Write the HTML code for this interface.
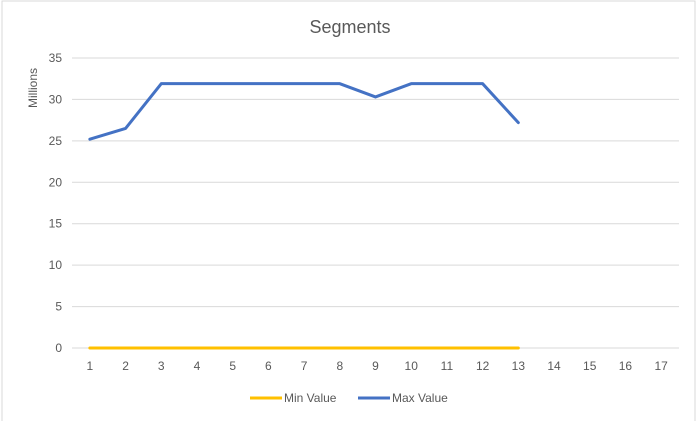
<!DOCTYPE html>
<html><head><meta charset="utf-8"><style>
body{margin:0;background:#fff;}
svg{display:block;font-family:"Liberation Sans",Calibri,sans-serif;}
</style></head><body>
<svg id="chart" width="700" height="421">
<rect x="0" y="0" width="700" height="421" fill="#fff"/>
<rect x="2" y="1" width="693" height="430" fill="#fff" stroke="#d9d9d9"/>
<text x="350" y="33" text-anchor="middle" font-size="18" fill="#595959">Segments</text>
<text transform="translate(37,88) rotate(-90)" text-anchor="middle" font-size="12" fill="#595959">Millions</text>
<g id="grid"></g><g id="ylab"></g><g id="xlab"></g><g id="series"></g>
<g>
<line x1="250" y1="398" x2="282" y2="398" stroke="#ffc000" stroke-width="3"/>
<text x="284" y="402" font-size="12" fill="#595959">Min Value</text>
<line x1="358" y1="398" x2="390" y2="398" stroke="#4472c4" stroke-width="3"/>
<text x="392" y="402" font-size="12" fill="#595959">Max Value</text>
</g>
</svg>
<script>
const categories=[1,2,3,4,5,6,7,8,9,10,11,12,13,14,15,16,17];
const minValues=[0,0,0,0,0,0,0,0,0,0,0,0,0];
const maxValues=[25.2,26.5,31.9,31.9,31.9,31.9,31.9,31.9,30.3,31.9,31.9,31.9,27.2];
const yTicks=[0,5,10,15,20,25,30,35];
const NS="http://www.w3.org/2000/svg";
const L=72,R=679,T=58,B=348,yMax=35;
const bw=(R-L)/categories.length;
const xs=i=>L+bw*(i+0.5);
const ys=v=>B-(v/yMax)*(B-T);
function mk(tag,attrs,parent){const e=document.createElementNS(NS,tag);for(const k in attrs)e.setAttribute(k,attrs[k]);document.getElementById(parent).appendChild(e);return e;}
yTicks.forEach(v=>{
 const g=mk('line',{x1:L,x2:R,y1:ys(v),y2:ys(v),stroke:'#d9d9d9','stroke-width':1},'grid');
 
 
 const t=mk('text',{x:L-10,y:ys(v)+4,'text-anchor':'end','font-size':12,fill:'#595959'},'ylab');
 t.textContent=v;
 
 
});
categories.forEach((c,i)=>{
 const t=mk('text',{x:xs(i),y:370,'text-anchor':'middle','font-size':12,fill:'#595959'},'xlab');
 t.textContent=c;
 
 
});
function line(vals,color,name){
 const p=mk('polyline',{points:vals.map((v,i)=>xs(i)+','+ys(v)).join(' '),fill:'none',stroke:color,'stroke-width':3,'stroke-linejoin':'round','stroke-linecap':'round'},'series');
 
 
}
line(minValues,'#ffc000','min-value-line');
line(maxValues,'#4472c4','max-value-line');
</script>
</body></html>
